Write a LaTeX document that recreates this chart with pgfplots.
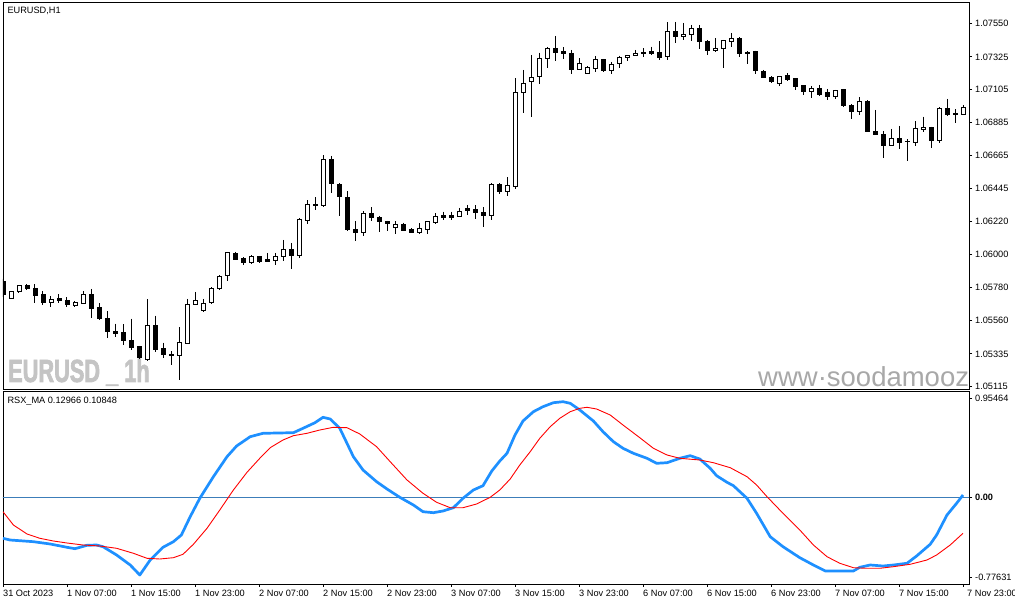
\documentclass[border=0pt]{standalone}
\usepackage{pgfplots}
\pgfplotsset{compat=1.18}
\usepackage{pgfplotstable}
\usepackage{fontspec}
\setmainfont{Liberation Sans}
\newfontfamily\wmfont[FakeStretch=0.68, BoldFeatures={FakeBold=2}]{Liberation Sans}
\definecolor{rsxblue}{RGB}{30,144,255}
\definecolor{levelblue}{RGB}{60,125,185}
\definecolor{wmgray}{RGB}{196,196,196}
\definecolor{urlgray}{RGB}{168,168,168}

\pgfplotstableread{
i o h l c
0 1.05823 1.05837 1.05716 1.05736
1 1.05709 1.05750 1.05701 1.05750
2 1.05750 1.05793 1.05746 1.05792
3 1.05793 1.05801 1.05763 1.05774
4 1.05770 1.05803 1.05678 1.05725
5 1.05730 1.05756 1.05665 1.05678
6 1.05681 1.05723 1.05651 1.05696
7 1.05705 1.05736 1.05678 1.05691
8 1.05694 1.05714 1.05651 1.05665
9 1.05661 1.05689 1.05647 1.05676
10 1.05673 1.05756 1.05669 1.05734
11 1.05734 1.05770 1.05577 1.05638
12 1.05649 1.05674 1.05562 1.05571
13 1.05573 1.05622 1.05443 1.05484
14 1.05488 1.05537 1.05450 1.05470
15 1.05475 1.05535 1.05395 1.05423
16 1.05426 1.05571 1.05359 1.05376
17 1.05383 1.05388 1.05301 1.05312
18 1.05294 1.05701 1.05287 1.05522
19 1.05522 1.05591 1.05350 1.05361
20 1.05368 1.05410 1.05309 1.05330
21 1.05334 1.05354 1.05261 1.05323
22 1.05323 1.05515 1.05160 1.05413
23 1.05406 1.05703 1.05401 1.05667
24 1.05665 1.05750 1.05663 1.05694
25 1.05624 1.05703 1.05618 1.05674
26 1.05678 1.05783 1.05671 1.05776
27 1.05772 1.05862 1.05765 1.05855
28 1.05859 1.06018 1.05825 1.06016
29 1.06009 1.06018 1.05962 1.05966
30 1.05971 1.05984 1.05929 1.05947
31 1.05946 1.05996 1.05935 1.05989
32 1.05989 1.05991 1.05942 1.05953
33 1.05964 1.06011 1.05949 1.05953
34 1.05962 1.06011 1.05929 1.05989
35 1.05986 1.06098 1.05955 1.06031
36 1.06031 1.06078 1.05902 1.05993
37 1.05991 1.06243 1.05979 1.06232
38 1.06230 1.06364 1.06203 1.06337
39 1.06339 1.06384 1.06296 1.06331
40 1.06326 1.06666 1.06316 1.06634
41 1.06634 1.06661 1.06410 1.06477
42 1.06473 1.06477 1.06259 1.06388
43 1.06384 1.06426 1.06158 1.06165
44 1.06165 1.06225 1.06093 1.06148
45 1.06150 1.06292 1.06127 1.06277
46 1.06277 1.06319 1.06225 1.06249
47 1.06252 1.06259 1.06154 1.06222
48 1.06225 1.06227 1.06160 1.06209
49 1.06182 1.06225 1.06140 1.06199
50 1.06199 1.06214 1.06160 1.06160
51 1.06165 1.06176 1.06148 1.06150
52 1.06148 1.06210 1.06136 1.06176
53 1.06170 1.06221 1.06140 1.06219
54 1.06217 1.06277 1.06203 1.06257
55 1.06259 1.06288 1.06234 1.06249
56 1.06259 1.06288 1.06232 1.06249
57 1.06255 1.06314 1.06253 1.06291
58 1.06310 1.06333 1.06268 1.06294
59 1.06304 1.06331 1.06239 1.06281
60 1.06284 1.06316 1.06187 1.06261
61 1.06259 1.06478 1.06232 1.06471
62 1.06471 1.06478 1.06408 1.06422
63 1.06422 1.06520 1.06393 1.06460
64 1.06455 1.07183 1.06443 1.07088
65 1.07088 1.07237 1.06951 1.07148
66 1.07161 1.07338 1.06924 1.07189
67 1.07192 1.07353 1.07143 1.07315
68 1.07314 1.07392 1.07247 1.07383
69 1.07384 1.07465 1.07299 1.07353
70 1.07359 1.07391 1.07313 1.07346
71 1.07350 1.07371 1.07210 1.07240
72 1.07242 1.07317 1.07240 1.07283
73 1.07215 1.07262 1.07214 1.07254
74 1.07248 1.07331 1.07226 1.07309
75 1.07309 1.07311 1.07222 1.07232
76 1.07232 1.07291 1.07210 1.07275
77 1.07282 1.07333 1.07252 1.07322
78 1.07322 1.07338 1.07299 1.07336
79 1.07336 1.07371 1.07335 1.07350
80 1.07349 1.07383 1.07321 1.07351
81 1.07359 1.07394 1.07336 1.07346
82 1.07356 1.07431 1.07304 1.07321
83 1.07327 1.07557 1.07307 1.07496
84 1.07492 1.07559 1.07420 1.07460
85 1.07463 1.07552 1.07440 1.07476
86 1.07476 1.07539 1.07431 1.07512
87 1.07512 1.07539 1.07376 1.07427
88 1.07431 1.07438 1.07340 1.07366
89 1.07366 1.07451 1.07356 1.07384
90 1.07380 1.07438 1.07252 1.07433
91 1.07427 1.07485 1.07391 1.07451
92 1.07451 1.07458 1.07326 1.07346
93 1.07351 1.07364 1.07277 1.07346
94 1.07360 1.07366 1.07212 1.07232
95 1.07230 1.07237 1.07183 1.07185
96 1.07190 1.07195 1.07152 1.07159
97 1.07145 1.07197 1.07130 1.07195
98 1.07197 1.07215 1.07163 1.07170
99 1.07177 1.07183 1.07105 1.07125
100 1.07130 1.07132 1.07070 1.07090
101 1.07092 1.07130 1.07051 1.07110
102 1.07110 1.07137 1.07063 1.07076
103 1.07083 1.07110 1.07036 1.07058
104 1.07058 1.07103 1.07045 1.07101
105 1.07103 1.07110 1.06991 1.06998
106 1.06996 1.07009 1.06911 1.06958
107 1.06958 1.07056 1.06938 1.07027
108 1.07029 1.07034 1.06820 1.06822
109 1.06828 1.06969 1.06800 1.06804
110 1.06808 1.06826 1.06649 1.06730
111 1.06730 1.06842 1.06728 1.06781
112 1.06781 1.06862 1.06710 1.06750
113 1.06761 1.06773 1.06629 1.06755
114 1.06750 1.06895 1.06730 1.06842
115 1.06835 1.06924 1.06824 1.06855
116 1.06855 1.06857 1.06716 1.06763
117 1.06763 1.06989 1.06750 1.06982
118 1.06982 1.07043 1.06931 1.06942
119 1.06944 1.06974 1.06884 1.06940
120 1.06940 1.07003 1.06936 1.06989
}\candles

\pgfplotsset{
  mtaxis/.style={
    at={(3pt,216pt)}, anchor=south west, scale only axis,
    width=966pt, height=387pt,
    xmin=0, xmax=120.75, ymin=1.050997, ymax=1.076926,
    clip=true, scaled y ticks=false,
  },
}

\begin{document}
\fontsize{9.2}{11}\selectfont
\begin{tikzpicture}
\fill[white] (0pt,0pt) rectangle (1015pt,605pt);

% watermarks
\node[anchor=base west, inner sep=0pt, text=wmgray, font=\fontsize{32}{32}\selectfont\wmfont\bfseries] at (8pt,223pt) {EURUSD \_ 1h};
\begin{scope}
\clip (3pt,216pt) rectangle (969pt,603pt);
\node[anchor=base west, inner sep=0pt, text=urlgray, font=\fontsize{27.5}{28}\selectfont] at (758pt,218pt) {www·soodamooz.com};
\end{scope}

% upper panel: frame, price labels, wicks
\begin{axis}[mtaxis,
  xtick=\empty,
  ytick={1.05115,1.05335,1.05560,1.05780,1.06000,1.06220,1.06445,1.06665,1.06885,1.07105,1.07325,1.07550},
  yticklabels={1.05115,1.05335,1.05560,1.05780,1.06000,1.06220,1.06445,1.06665,1.06885,1.07105,1.07325,1.07550},
  ytick pos=right, yticklabel pos=right, tick align=outside, major tick length=3pt,
  tick style={black, line width=0.8pt},
  axis line style={black, line width=0.8pt},
  yticklabel style={anchor=west, inner sep=0pt, xshift=3pt},
]
\addplot[draw=none, mark=none,
  error bars/.cd, y dir=minus, y explicit, error mark=none,
  error bar style={draw=black, line width=1pt, solid}]
  table[x=i, y=h, y error minus expr={\thisrow{h}-\thisrow{l}}] {\candles};
\end{axis}

% upper panel: candle bodies
\begin{axis}[mtaxis, hide axis, ybar stacked, bar width=4pt]
\addplot[draw=none, fill=none] table[x=i, y expr={min(\thisrow{o},\thisrow{c})}] {\candles};
\addplot[draw=black, fill=white, line width=1pt] table[x=i, y expr={max(\thisrow{c}-\thisrow{o},0)}] {\candles};
\addplot[draw=black, fill=black, line width=1pt] table[x=i, y expr={max(\thisrow{o}-\thisrow{c},0)}] {\candles};
\end{axis}

% lower panel: RSX_MA
\begin{axis}[at={(3pt,21pt)}, anchor=south west, scale only axis,
  width=966pt, height=193pt,
  xmin=0, xmax=120.75, ymin=-0.7767, ymax=0.9543, clip=true,
  xtick={0,8,...,120},
  xticklabels={31 Oct 2023,1 Nov 07:00,1 Nov 15:00,1 Nov 23:00,2 Nov 07:00,2 Nov 15:00,2 Nov 23:00,3 Nov 07:00,3 Nov 15:00,3 Nov 23:00,6 Nov 07:00,6 Nov 15:00,6 Nov 23:00,7 Nov 07:00,7 Nov 15:00,\hspace*{4pt}7 Nov 23:00},
  xtick pos=left,
  ytick={-0.7202,0,0.8915},
  yticklabels={-0.77631,\textbf{0.00},0.95464},
  ytick pos=right, yticklabel pos=right, tick align=outside, major tick length=3pt,
  tick style={black, line width=0.8pt},
  axis line style={black, line width=0.8pt},
  yticklabel style={anchor=west, inner sep=0pt, xshift=3pt},
  xticklabel style={anchor=north west, inner sep=0pt, yshift=-3pt},
]
\addplot[levelblue, line width=1pt] coordinates {(-2,0) (123,0)};
\addplot[rsxblue, line width=2.7pt, line join=round] coordinates {
(0,-0.3668) (0.875,-0.3821) (3.8,-0.3973) (5.9,-0.4179) (8.0,-0.4475) (9.0,-0.4601) (10.5,-0.4296) (11.7,-0.4269) (12.5,-0.4422) (14.2,-0.5166) (15.9,-0.6063) (17.1,-0.6960) (18.4,-0.5614) (20.0,-0.4475) (21.3,-0.3973) (22.3,-0.3372) (23.4,-0.1731) (24.6,-0.0081) (26.3,0.1857) (28.0,0.3650) (29.2,0.4610) (30.9,0.5444) (32.5,0.5749) (36.3,0.5803) (37.5,0.6197) (39.0,0.6700) (40.0,0.7184) (40.9,0.7031) (42.1,0.6197) (43.8,0.3650) (45.0,0.2457) (46.7,0.1408) (48.0,0.0753) (49.6,0.0009) (51.3,-0.0682) (52.5,-0.1283) (53.8,-0.1372) (55.0,-0.1220) (56.3,-0.0924) (57.5,-0.0081) (58.8,0.0664) (60.0,0.1049) (61.1,0.2368) (62.1,0.3265) (63.0,0.3955) (64.0,0.5596) (65.0,0.6852) (66.3,0.7686) (67.5,0.8135) (68.8,0.8493) (70.0,0.8583) (70.9,0.8440) (72.1,0.7839) (73.8,0.6852) (75.0,0.5892) (76.3,0.4996) (77.5,0.4404) (78.8,0.3955) (80.5,0.3507) (81.7,0.3058) (83.0,0.3112) (84.6,0.3507) (85.9,0.3740) (87.1,0.3444) (88.4,0.2610) (89.2,0.1946) (90.5,0.1354) (91.3,0.1049) (93.0,-0.0081) (94.2,-0.1426) (95.9,-0.3525) (97.5,-0.4422) (99.6,-0.5408) (101.3,-0.6063) (102.8,-0.6601) (106.3,-0.6601) (107.1,-0.6269) (108.4,-0.6063) (110.0,-0.6153) (111.3,-0.6063) (113.0,-0.5910) (114.2,-0.5256) (115.9,-0.4206) (116.7,-0.3372) (118.0,-0.1578) (119.2,-0.0529) (120.0,0.0215)
};
\addplot[red, line width=0.9pt] coordinates {
(0,-0.1283) (1.3,-0.2475) (3.0,-0.3283) (4.6,-0.3668) (6.3,-0.3910) (8.0,-0.4090) (10.0,-0.4269) (12.1,-0.4359) (14.2,-0.4565) (16.3,-0.5013) (18.0,-0.5462) (19.6,-0.5525) (21.3,-0.5408) (22.5,-0.5103) (23.8,-0.4206) (25.5,-0.2771) (27.1,-0.1130) (28.8,0.0664) (30.5,0.2251) (32.1,0.3507) (33.4,0.4457) (35.0,0.5148) (36.3,0.5534) (38.0,0.5749) (39.6,0.6045) (41.3,0.6287) (43.0,0.6251) (44.6,0.5686) (46.7,0.4547) (48.4,0.3202) (50.5,0.1561) (52.5,0.0368) (54.2,-0.0439) (55.9,-0.0924) (57.5,-0.0924) (59.2,-0.0592) (60.9,0.0009) (62.1,0.0664) (63.4,0.1650) (64.6,0.2906) (65.9,0.4099) (67.1,0.5300) (68.4,0.6341) (69.6,0.7094) (70.9,0.7686) (72.1,0.7991) (73.0,0.8081) (74.2,0.7928) (75.9,0.7390) (77.5,0.6493) (79.6,0.5354) (81.3,0.4404) (83.0,0.3803) (84.6,0.3507) (87.1,0.3354) (88.8,0.3112) (90.9,0.2664) (93.0,0.1857) (94.2,0.1112) (95.5,0.0063) (97.5,-0.1426) (99.6,-0.2924) (101.3,-0.4269) (103.0,-0.5318) (104.6,-0.5910) (106.3,-0.6305) (108.0,-0.6359) (109.6,-0.6359) (111.3,-0.6215) (113.4,-0.6000) (115.5,-0.5614) (116.7,-0.5166) (118.4,-0.4269) (120.0,-0.3220)
};
\end{axis}

% panel captions
\node[anchor=base west, inner sep=0pt] at (7.3pt,591pt) {EURUSD,H1};
\node[anchor=base west, inner sep=0pt] at (7.3pt,201pt) {RSX\_MA 0.12966 0.10848};

\pgfresetboundingbox
\useasboundingbox (0pt,0pt) rectangle (1015pt,605pt);
\end{tikzpicture}
\end{document}
